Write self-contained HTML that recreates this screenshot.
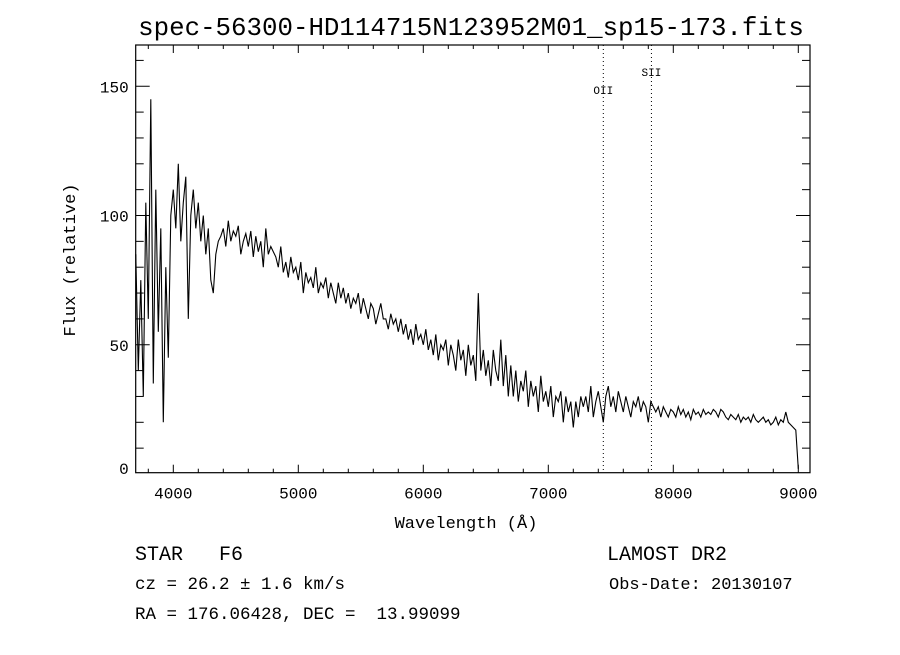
<!DOCTYPE html>
<html><head><meta charset="utf-8"><style>
body{margin:0;background:#fff}
svg text{font-family:"Liberation Mono","DejaVu Sans Mono",monospace;fill:#000}
</style></head><body>
<svg id="chart" width="900" height="650" viewBox="0 0 900 650" xmlns="http://www.w3.org/2000/svg">
<rect width="900" height="650" fill="#fff"/>
<text x="471" y="35" font-size="25.8" text-anchor="middle">spec-56300-HD114715N123952M01_sp15-173.fits</text>
<g id="axes"></g>
<path id="spec" fill="none" stroke="#000" stroke-width="1.1"/>
<text x="466" y="528" font-size="17" text-anchor="middle">Wavelength (Å)</text>
<text transform="translate(75,260) rotate(-90)" font-size="17" text-anchor="middle">Flux (relative)</text>
<text x="135" y="560" font-size="20" xml:space="preserve">STAR   F6</text>
<text x="607" y="560" font-size="20">LAMOST DR2</text>
<text x="135" y="589" font-size="17.5">cz = 26.2 ± 1.6 km/s</text>
<text x="609" y="589" font-size="17">Obs-Date: 20130107</text>
<text x="135" y="619" font-size="17.5" xml:space="preserve">RA = 176.06428, DEC =  13.99099</text>
</svg>
<script>
const startWave = 3700;
const stepWave = 20;
const flux = [
85,40,75,30,105, 60,145,35,110,55, 95,20,80,45,100,
110,95,120,90,105, 115,60,100,110,95, 105,90,100,85,95,
75,70,85,90,92, 95,88,98,90,94, 92,96,85,90,93,
88,94,84,92,86, 90,80,95,85,88, 86,84,80,88,78,
82,76,84,78,80, 75,82,70,78,74, 76,72,80,70,74,
72,76,68,74,70, 66,74,68,72,66, 70,64,68,66,70,
62,68,64,60,66, 64,58,62,66,60, 60,56,62,58,60,
55,60,54,58,52, 56,50,58,52,54, 50,56,48,52,46,
54,44,50,48,52, 42,50,46,40,52, 44,48,38,50,42,
46,36,70,40,48, 38,44,34,48,40, 36,52,34,46,30,
42,30,40,28,36, 32,40,26,36,30, 34,24,38,28,32,
26,34,22,30,28, 32,20,30,24,28, 18,28,22,30,26,
30,24,34,22,28, 32,26,20,30,34, 26,30,24,32,28,
24,30,26,22,28, 26,30,24,28,26, 20,28,26,24,26,
22,26,24,22,25, 24,22,26,23,25, 22,24,21,25,23,
24,22,25,23,24, 23,25,24,22,25, 24,22,21,23,22,
21,23,20,22,21, 22,20,23,21,20, 21,22,20,21,19,
20,22,19,21,20, 24,20,19,18,17, 2];
const xTicks = [4000,5000,6000,7000,8000,9000];
const yTicks = [0,50,100,150];
const lineNames = ["OII","SII"];
const lineWaves = [7440,7825];
const lineLabelFlux = [147,154];

const X0=135.7, X1=810, Y0=45, Y1=472.7;
const xs = w => 173.3 + (w-4000)*0.125;
const ys = f => 474 - f*2.585;
const NS="http://www.w3.org/2000/svg";
const ax=document.getElementById('axes');
function mk(tag,attrs,parent){const e=document.createElementNS(NS,tag);for(const k in attrs)e.setAttribute(k,attrs[k]);(parent||ax).appendChild(e);return e;}
const frame=mk('rect',{x:X0,y:Y0,width:X1-X0,height:Y1-Y0,fill:'none',stroke:'#000','stroke-width':1.2});


for(let w=3800;w<=9000;w+=200){
  const x=xs(w), major=w%1000===0, L=major?8:4;
  const t1=mk('line',{x1:x,x2:x,y1:Y1,y2:Y1-L,stroke:'#000'});
  
  
  const t2=mk('line',{x1:x,x2:x,y1:Y0,y2:Y0+L,stroke:'#000'});
  
  
}
xTicks.forEach(w=>{const t=mk('text',{x:xs(w),y:Y1+26,'font-size':16,'text-anchor':'middle'});t.textContent=w;
  
  });
for(let f=10;f<=160;f+=10){
  const y=ys(f), major=f%50===0, L=major?14:8;
  const t1=mk('line',{x1:X0,x2:X0+L,y1:y,y2:y,stroke:'#000'});
  
  
  const t2=mk('line',{x1:X1,x2:X1-L,y1:y,y2:y,stroke:'#000'});
  
  
}
yTicks.forEach(f=>{const t=mk('text',{x:X0-7,y:Math.min(ys(f),468)+6,'font-size':16,'text-anchor':'end'});t.textContent=f;
  
  });
lineWaves.forEach((w,i)=>{
  const l=mk('line',{x1:xs(w),x2:xs(w),y1:Y0,y2:Y1,stroke:'#000','stroke-dasharray':'1,3','stroke-width':1});
  
  
  const t=mk('text',{x:xs(w),y:ys(lineLabelFlux[i]),'font-size':11,'text-anchor':'middle','font-family':'Liberation Serif, serif'});
  t.textContent=lineNames[i];
  
  
});
let d='';
flux.forEach((f,i)=>{const w=startWave+i*stepWave;d+=(i?'L':'M')+xs(w).toFixed(1)+','+ys(f).toFixed(1);});
document.getElementById('spec').setAttribute('d',d);
</script>
</body></html>
